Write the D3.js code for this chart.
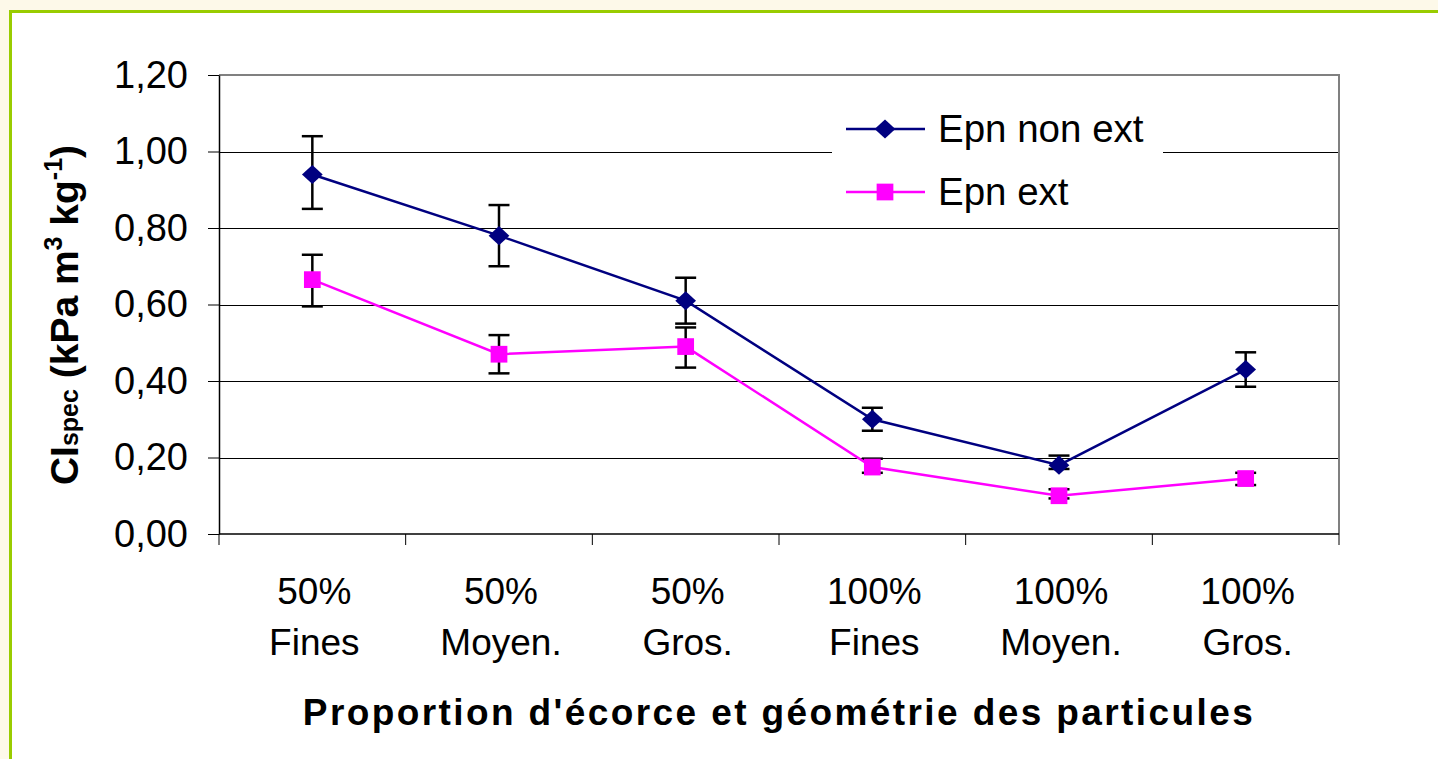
<!DOCTYPE html>
<html>
<head>
<meta charset="utf-8">
<script src="https://cdn.jsdelivr.net/npm/d3@7"></script>
<style>
  html, body { margin: 0; padding: 0; background: #fdf9e9; }
  svg { display: block; }
  text { font-family: "Liberation Sans", Arial, sans-serif; }
</style>
</head>
<body>
<svg id="chart" width="1438" height="759"></svg>
<script>
// ---- data ----
const categories = ["50% Fines", "50% Moyen.", "50% Gros.", "100% Fines", "100% Moyen.", "100% Gros."];
const catLine1 = ["50%", "50%", "50%", "100%", "100%", "100%"];
const catLine2 = ["Fines", "Moyen.", "Gros.", "Fines", "Moyen.", "Gros."];
const seriesNames = ["Epn non ext", "Epn ext"];
const nonExtValues = [0.94, 0.78, 0.61, 0.30, 0.18, 0.43];
const nonExtUpper  = [1.04, 0.86, 0.67, 0.33, 0.205, 0.475];
const nonExtLower  = [0.85, 0.70, 0.55, 0.27, 0.17, 0.385];
const extValues = [0.665, 0.47, 0.49, 0.175, 0.10, 0.145];
const extUpper  = [0.73, 0.52, 0.54, 0.197, 0.117, 0.16];
const extLower  = [0.595, 0.42, 0.435, 0.16, 0.093, 0.128];
const yTicks = [0, 0.2, 0.4, 0.6, 0.8, 1.0, 1.2];
const xTitle = "Proportion d'écorce et géométrie des particules";

// ---- layout ----
const svg = d3.select("#chart");
const L = 219, R = 1339, T = 75, B = 534;

// outer frame
svg.append("rect").attr("x", 10.5).attr("y", 11.5).attr("width", 1440).attr("height", 760)
  .attr("fill", "#ffffff").attr("stroke", "#99cc00").attr("stroke-width", 3);

const x = d3.scaleBand().domain(categories).range([L, R]).paddingInner(0).paddingOuter(0);
const cx = c => x(c) + x.bandwidth() / 2;
const y = d3.scaleLinear().domain([0, 1.2]).range([B, T]);

// plot area background
svg.append("rect").attr("x", L).attr("y", T).attr("width", R - L).attr("height", B - T).attr("fill", "#fff");

// gridlines
svg.append("g").attr("transform", `translate(${L},0)`)
  .call(d3.axisLeft(y).tickValues(yTicks.slice(1, -1)).tickSize(-(R - L)).tickFormat(""))
  .call(g => g.select(".domain").remove())
  .call(g => g.selectAll("line").attr("stroke", "#000").attr("stroke-width", 1).attr("shape-rendering", "crispEdges"));

// top and right borders
svg.append("line").attr("x1", L).attr("x2", R).attr("y1", y(1.2)).attr("y2", y(1.2))
  .attr("stroke", "#808080").attr("stroke-width", 2);
svg.append("line").attr("x1", R).attr("x2", R).attr("y1", T - 1).attr("y2", B)
  .attr("stroke", "#808080").attr("stroke-width", 2);

// y axis
const yAxis = svg.append("g").attr("transform", `translate(${L},0)`)
  .call(d3.axisLeft(y).tickValues(yTicks).tickSize(11).tickSizeOuter(0).tickPadding(20)
    .tickFormat(d => d.toFixed(2).replace(".", ",")));
yAxis.select(".domain").attr("stroke", "#000").attr("stroke-width", 1.5);
yAxis.selectAll("line").attr("stroke", "#000").attr("stroke-width", 1);
yAxis.selectAll("text").attr("font-size", 38).attr("fill", "#000")
  .attr("font-family", "'Liberation Sans', Arial, sans-serif");

// x axis: boundary ticks
const bounds = categories.map(c => x(c)).concat([R]);
const xAxis = svg.append("g").attr("transform", `translate(0,${B})`);
xAxis.append("line").attr("x1", L).attr("x2", R).attr("y1", 0).attr("y2", 0)
  .attr("stroke", "#000").attr("stroke-width", 1.5);
xAxis.selectAll("line.tk").data(bounds).enter().append("line").attr("class", "tk")
  .attr("x1", d => d).attr("x2", d => d).attr("y1", 0).attr("y2", 11)
  .attr("stroke", "#000").attr("stroke-width", 1);
const lbl = xAxis.selectAll("text.cat").data(categories).enter().append("text").attr("class", "cat")
  .attr("text-anchor", "middle").attr("font-size", 37).attr("fill", "#000");
lbl.append("tspan").attr("x", d => cx(d) + 2).attr("y", 70).text((d, i) => catLine1[i]);
lbl.append("tspan").attr("x", d => cx(d) + 2).attr("y", 121).text((d, i) => catLine2[i]);

// x axis title
svg.append("text").attr("x", 779).attr("y", 725).attr("text-anchor", "middle")
  .attr("font-size", 37).attr("font-weight", "bold").attr("letter-spacing", 2.4).attr("fill", "#000")
  .text(xTitle);

// y axis title
const yt = svg.append("text").attr("transform", "translate(78,315) rotate(-90)")
  .attr("text-anchor", "middle").attr("font-weight", "bold").attr("font-size", 39).attr("fill", "#000");
yt.append("tspan").text("CI");
yt.append("tspan").attr("font-size", 25).attr("dy", 0).text("spec");
yt.append("tspan").text(" (kPa m");
yt.append("tspan").attr("font-size", 25).attr("dy", -16).text("3");
yt.append("tspan").attr("dy", 16).text(" kg");
yt.append("tspan").attr("font-size", 25).attr("dy", -16).text("-1");
yt.append("tspan").attr("dy", 16).text(")");

// series
const series = [
  { name: seriesNames[0], vals: nonExtValues, up: nonExtUpper, lo: nonExtLower, color: "#000080", diamond: true, size: 215 },
  { name: seriesNames[1], vals: extValues, up: extUpper, lo: extLower, color: "#ff00ff", diamond: false, size: 280 }
];
const markerT = s => s.diamond ? " scale(1,0.92) rotate(45)" : "";
const sym = s => d3.symbol().type(d3.symbolSquare).size(s.size);

const line = d3.line().x(d => cx(d.c)).y(d => y(d.v));

series.forEach(s => {
  const pts = categories.map((c, i) => ({ c, v: s.vals[i], up: s.up[i], lo: s.lo[i] }));
  const eb = svg.append("g");
  eb.selectAll("line.v").data(pts).enter().append("line")
    .attr("x1", d => cx(d.c)).attr("x2", d => cx(d.c)).attr("y1", d => y(d.up)).attr("y2", d => y(d.lo))
    .attr("stroke", "#000").attr("stroke-width", 2.5);
  ["up", "lo"].forEach(k => {
    eb.selectAll("line." + k).data(pts).enter().append("line")
      .attr("x1", d => cx(d.c) - 10.5).attr("x2", d => cx(d.c) + 10.5).attr("y1", d => y(d[k])).attr("y2", d => y(d[k]))
      .attr("stroke", "#000").attr("stroke-width", 2.5);
  });
  svg.append("path").datum(pts).attr("d", line).attr("fill", "none")
    .attr("stroke", s.color).attr("stroke-width", 2.5);
  svg.append("g").selectAll("path").data(pts).enter().append("path")
    .attr("transform", d => `translate(${cx(d.c)},${y(d.v)})${markerT(s)}`)
    .attr("d", sym(s)).attr("fill", s.color);
});

// legend
const lg = svg.append("g").attr("transform", "translate(832,100)");
lg.append("rect").attr("x", 0).attr("y", 0).attr("width", 331).attr("height", 118).attr("fill", "#fff");
series.forEach((s, i) => {
  const gy = 29 + i * 63;
  lg.append("line").attr("x1", 14).attr("x2", 93).attr("y1", gy).attr("y2", gy)
    .attr("stroke", s.color).attr("stroke-width", 2.5);
  lg.append("path").attr("transform", `translate(53,${gy})${markerT(s)}`)
    .attr("d", sym(s)).attr("fill", s.color);
  lg.append("text").attr("x", 106).attr("y", gy + 13).attr("font-size", 38.5).attr("fill", "#000").text(s.name);
});
</script>
</body>
</html>
